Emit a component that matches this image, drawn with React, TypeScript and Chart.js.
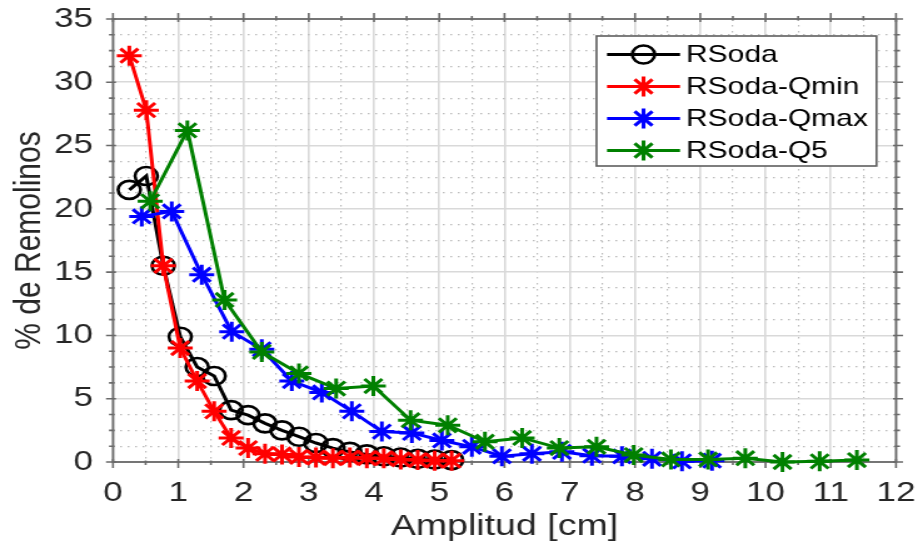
import React, { useEffect, useRef } from 'react';
import { Chart, registerables } from 'chart.js';

Chart.register(...registerables);

// ---- data ----
const amplitudRSoda = [0.25, 0.51, 0.77, 1.03, 1.29, 1.55, 1.81, 2.07, 2.33, 2.59, 2.85, 3.11, 3.37, 3.63, 3.89, 4.15, 4.41, 4.67, 4.93, 5.19];
const valoresRSoda = [21.5, 22.6, 15.5, 9.9, 7.5, 6.8, 4.1, 3.7, 3.05, 2.5, 2.0, 1.5, 1.1, 0.8, 0.6, 0.45, 0.35, 0.25, 0.2, 0.15];
const valoresQmin = [32.1, 27.8, 15.5, 9.0, 6.4, 4.0, 1.9, 1.1, 0.65, 0.6, 0.4, 0.35, 0.3, 0.35, 0.3, 0.3, 0.2, 0.15, 0.1, 0.1];
const amplitudQmax = [0.44, 0.9, 1.36, 1.82, 2.28, 2.74, 3.2, 3.66, 4.12, 4.58, 5.04, 5.5, 5.96, 6.42, 6.88, 7.34, 7.8, 8.26, 8.72, 9.18];
const valoresQmax = [19.4, 19.8, 14.8, 10.3, 8.9, 6.4, 5.5, 4.0, 2.4, 2.3, 1.7, 1.2, 0.45, 0.65, 0.8, 0.5, 0.45, 0.25, 0.05, 0.1];
const amplitudQ5 = [0.57, 1.14, 1.71, 2.28, 2.85, 3.42, 3.99, 4.56, 5.13, 5.7, 6.27, 6.84, 7.41, 7.98, 8.55, 9.12, 9.69, 10.26, 10.83, 11.4];
const valoresQ5 = [20.6, 26.2, 12.8, 8.7, 7.0, 5.8, 6.0, 3.3, 2.9, 1.6, 1.9, 1.1, 1.2, 0.55, 0.2, 0.2, 0.3, 0.0, 0.05, 0.15];

const seriesNames = ['RSoda', 'RSoda-Qmin', 'RSoda-Qmax', 'RSoda-Q5'];
const seriesColors = ['#000000', '#ff0000', '#0000ff', '#008000'];
const xRange = [0, 12];
const yRange = [0, 35];
const xMajorStep = 1;
const xMinorStep = 0.5;
const yMajorStep = 5;
const yMinorStep = 1.25;
const xTitle = 'Amplitud [cm]';
const yTitle = '% de Remolinos';

// ---- layout ----
const OUT_W = 918;
const OUT_H = 548;
const IN_W = 734;
const SX = OUT_W / IN_W;
const FONT = "'Liberation Sans', Arial, Helvetica, sans-serif";
const TEXT = '#262626';

const pts = (xs: number[], ys: number[]) => xs.map((x, i) => ({ x, y: ys[i] }));
const isMult = (v: number, step: number) => Math.abs(v / step - Math.round(v / step)) < 1e-6;

const framePlugin = {
  id: 'frame',
  beforeDatasetsDraw(chart: any) {
    const { ctx, chartArea } = chart;
    const { left, right, top, bottom } = chartArea;
    const xs = chart.scales.x;
    const ys = chart.scales.y;
    ctx.save();
    ctx.strokeStyle = '#6a6a6a';
    ctx.lineWidth = 1.6;
    ctx.beginPath();
    xs.ticks.forEach((t: any) => {
      const px = xs.getPixelForValue(t.value);
      const major = isMult(t.value, xMajorStep);
      const out = major ? 6 : 3;
      const inn = major ? 3 : 1.5;
      ctx.moveTo(px, bottom - inn);
      ctx.lineTo(px, bottom + out);
      ctx.moveTo(px, top + inn);
      ctx.lineTo(px, top - out);
    });
    ys.ticks.forEach((t: any) => {
      const py = ys.getPixelForValue(t.value);
      const major = isMult(t.value, yMajorStep);
      const out = (major ? 7 : 4) / SX;
      const inn = (major ? 3 : 1.5) / SX;
      ctx.moveTo(left - out, py);
      ctx.lineTo(left + inn, py);
      ctx.moveTo(right + out, py);
      ctx.lineTo(right - inn, py);
    });
    ctx.stroke();
    ctx.lineWidth = 1.8;
    ctx.strokeRect(left, top, right - left, bottom - top);
    ctx.restore();
  },
};

const legendPlugin = {
  id: 'mlegend',
  afterDraw(chart: any) {
    const { ctx } = chart;
    const bx = 596.5 / SX;
    const bw = (876.5 - 596.5) / SX;
    const by = 36;
    const bh = 130;
    ctx.save();
    ctx.fillStyle = '#ffffff';
    ctx.fillRect(bx, by, bw, bh);
    ctx.strokeStyle = '#5e5e5e';
    ctx.lineWidth = 1.6;
    ctx.strokeRect(bx, by, bw, bh);
    const x0 = 607 / SX;
    const x1 = 680 / SX;
    const xm = (x0 + x1) / 2;
    const xt = 686 / SX;
    chart.data.datasets.forEach((ds: any, i: number) => {
      const cy = 54.5 + i * 32;
      ctx.strokeStyle = ds.borderColor;
      ctx.lineWidth = ds.borderWidth;
      ctx.beginPath();
      ctx.moveTo(x0, cy);
      ctx.lineTo(x1, cy);
      ctx.stroke();
      ctx.lineWidth = ds.pointBorderWidth;
      ctx.beginPath();
      if (ds.pointStyle === 'circle') {
        ctx.arc(xm, cy, ds.pointRadius, 0, Math.PI * 2);
      } else {
        const r = ds.pointRadius;
        for (let k = 0; k < 4; k++) {
          const a = (k * Math.PI) / 4;
          ctx.moveTo(xm - r * Math.cos(a), cy - r * Math.sin(a));
          ctx.lineTo(xm + r * Math.cos(a), cy + r * Math.sin(a));
        }
      }
      ctx.stroke();
      ctx.fillStyle = '#000000';
      ctx.font = `24px ${FONT}`;
      ctx.textBaseline = 'middle';
      ctx.textAlign = 'left';
      ctx.fillText(ds.label, xt, cy + 1);
    });
    ctx.restore();
  },
};

function makeDataset(i: number, data: { x: number; y: number }[], order: number) {
  const circle = i === 0;
  return {
    label: seriesNames[i],
    data,
    borderColor: seriesColors[i],
    backgroundColor: seriesColors[i],
    borderWidth: 3,
    tension: 0,
    pointStyle: circle ? 'circle' : 'star',
    pointRadius: circle ? 9 : 10,
    pointHoverRadius: circle ? 9 : 10,
    pointBorderWidth: circle ? 2.6 : 3,
    pointBorderColor: seriesColors[i],
    pointBackgroundColor: circle ? 'rgba(0,0,0,0)' : seriesColors[i],
    order,
    clip: false as any,
  };
}

export default function App() {
  const ref = useRef<HTMLCanvasElement>(null);

  useEffect(() => {
    if (!ref.current) return;
    const gridColor = (step: number) => (c: any) =>
      c.tick && !isMult(c.tick.value, step) ? '#bcbcbc' : '#d9d9d9';
    const gridWidth = (step: number) => (c: any) =>
      c.tick && !isMult(c.tick.value, step) ? 1.2 : 1.6;
    const gridDash = (step: number) => (c: any) =>
      c.tick && !isMult(c.tick.value, step) ? [1.5, 4.5] : [];

    const chart = new Chart(ref.current, {
      type: 'line',
      data: {
        datasets: [
          makeDataset(0, pts(amplitudRSoda, valoresRSoda), 4),
          makeDataset(1, pts(amplitudRSoda, valoresQmin), 3),
          makeDataset(2, pts(amplitudQmax, valoresQmax), 2),
          makeDataset(3, pts(amplitudQ5, valoresQ5), 1),
        ] as any,
      },
      options: {
        responsive: false,
        animation: false,
        devicePixelRatio: 1,
        layout: { padding: { top: 19, right: OUT_W / SX - 896 / SX, left: 0, bottom: 0 } },
        plugins: { legend: { display: false }, tooltip: { enabled: false } },
        scales: {
          x: {
            type: 'linear',
            min: xRange[0],
            max: xRange[1],
            ticks: {
              stepSize: xMinorStep,
              autoSkip: false,
              maxRotation: 0,
              padding: 14,
              color: TEXT,
              font: { family: FONT, size: 28 },
              callback: (v: any) => (isMult(Number(v), xMajorStep) ? String(Math.round(Number(v))) : ''),
            },
            grid: { drawTicks: false, color: gridColor(xMajorStep), lineWidth: gridWidth(xMajorStep) },
            border: { display: false, dash: gridDash(xMajorStep) },
            title: {
              display: true,
              text: xTitle,
              color: TEXT,
              font: { family: FONT, size: 30 },
              padding: { top: 0, bottom: 3 },
            },
            afterFit: (s: any) => {
              s.height = OUT_H - 462;
              s.paddingLeft = 0;
              s.paddingRight = 0;
            },
          },
          y: {
            type: 'linear',
            min: yRange[0],
            max: yRange[1],
            ticks: {
              stepSize: yMinorStep,
              autoSkip: false,
              padding: 16,
              color: TEXT,
              font: { family: FONT, size: 28 },
              callback: (v: any) => (isMult(Number(v), yMajorStep) ? String(Math.round(Number(v))) : ''),
            },
            grid: { drawTicks: false, color: gridColor(yMajorStep), lineWidth: gridWidth(yMajorStep) },
            border: { display: false, dash: gridDash(yMajorStep) },
            title: {
              display: true,
              text: yTitle,
              color: TEXT,
              font: { family: FONT, size: 30 },
              padding: { top: 6, bottom: 0 },
            },
            afterFit: (s: any) => {
              s.width = 113 / SX;
              s.paddingTop = 0;
              s.paddingBottom = 0;
            },
          },
        } as any,
      },
      plugins: [framePlugin, legendPlugin],
    });
    return () => chart.destroy();
  }, []);

  return (
    <div
      style={{
        position: 'absolute',
        left: 0,
        top: 0,
        width: OUT_W,
        height: OUT_H,
        overflow: 'hidden',
        background: '#ffffff',
      }}
    >
      <div style={{ width: IN_W, height: OUT_H, transform: `scaleX(${SX})`, transformOrigin: '0 0' }}>
        <canvas ref={ref} width={IN_W} height={OUT_H} style={{ display: 'block' }} />
      </div>
    </div>
  );
}
